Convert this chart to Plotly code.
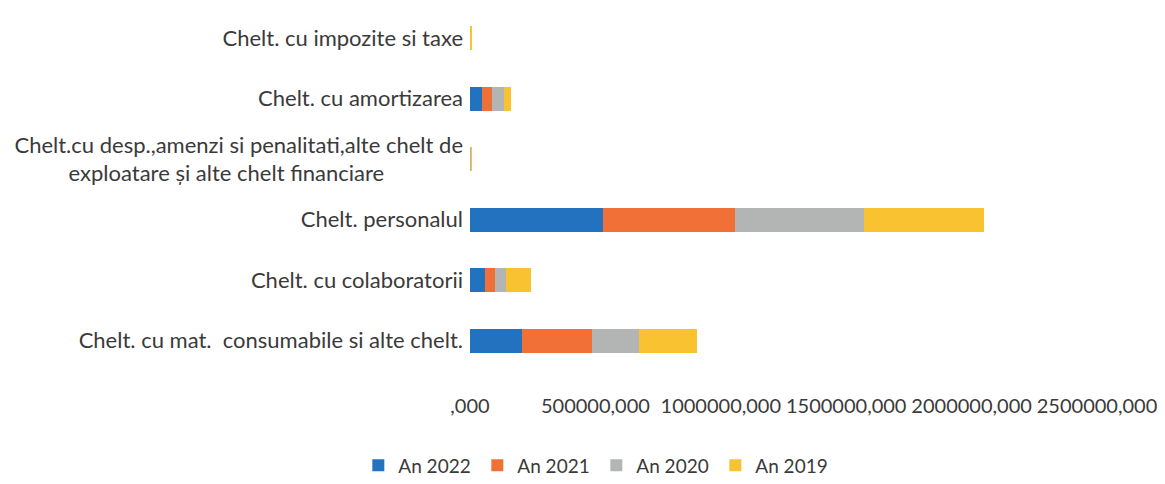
import plotly.graph_objects as go

categories = [
    "Chelt. cu impozite si taxe",
    "Chelt. cu amortizarea",
    "Chelt.cu desp.,amenzi si penalitati,alte chelt de<br>exploatare și alte chelt financiare" + "\u00a0" * 14,
    "Chelt. personalul",
    "Chelt. cu colaboratorii",
    "Chelt. cu mat.\u00a0 consumabile si alte chelt.",
]
series_names = ["An 2022", "An 2021", "An 2020", "An 2019"]
an_2022 = [1000, 48000, 1500, 530000, 59000, 206000]
an_2021 = [1000, 40000, 1500, 525000, 42000, 280000]
an_2020 = [1000, 48000, 1000, 515000, 44000, 187000]
an_2019 = [2000, 28000, 1000, 480000, 97000, 234000]
colors = ["#2272C0", "#F07038", "#B2B5B3", "#F8C230"]
tick_vals = [0, 500000, 1000000, 1500000, 2000000, 2500000]
tick_text = [",000", "500000,000", "1000000,000", "1500000,000", "2000000,000", "2500000,000"]

fig = go.Figure()
for name, vals, col in zip(series_names, [an_2022, an_2021, an_2020, an_2019], colors):
    fig.add_trace(go.Bar(y=categories, x=vals, name=name, orientation="h",
                         marker=dict(color=col, line=dict(width=0))))

font_fam = "Lato, 'Open Sans', sans-serif"
fig.update_layout(
    width=1165, height=484,
    barmode="stack", bargap=0.6,
    plot_bgcolor="white", paper_bgcolor="white",
    margin=dict(l=462, r=76, t=0, b=121, autoexpand=False),
    font=dict(family=font_fam, size=22, color="#3a3a3a"),
    legend=dict(orientation="h", xref="container", x=0.505, xanchor="center",
                yref="container", y=0.055, yanchor="middle", traceorder="normal",
                entrywidth=74, font=dict(size=19)),
    xaxis=dict(range=[0, 2500000], tickvals=tick_vals, ticktext=tick_text,
               showgrid=False, zeroline=False, showline=False, ticks="",
               tickangle=0, tickfont=dict(size=20), automargin=False,
               ticklabelstandoff=21),
    yaxis=dict(autorange="reversed", showgrid=False, zeroline=False, showline=False,
               ticks="", ticklabelstandoff=6, automargin=False),
)
fig.write_html("out.html")
